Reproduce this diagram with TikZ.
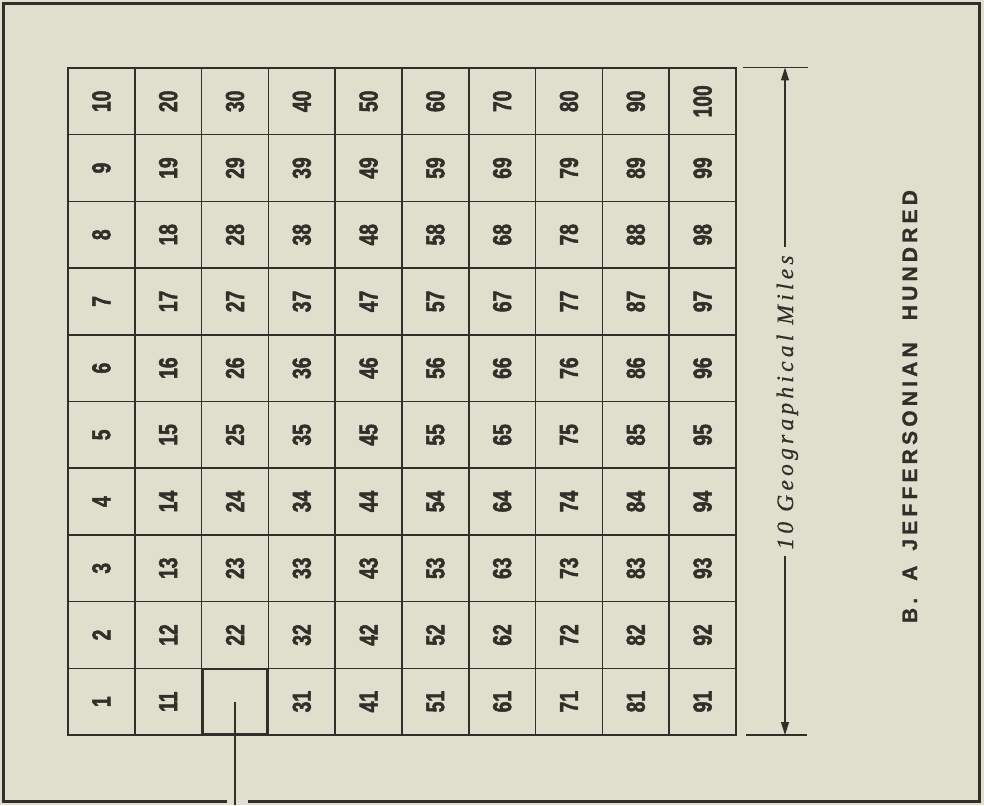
\documentclass[tikz,border=0pt]{standalone}
\usepackage{fontspec}
\setmainfont{Liberation Serif}
\newfontfamily\numfont[FakeStretch=0.74, BoldFeatures={FakeBold=2}]{Liberation Sans}
\newfontfamily\capfont[LetterSpace=20, BoldFeatures={FakeBold=1.2}]{Liberation Sans}
\newfontfamily\dimfont[LetterSpace=18, ItalicFeatures={FakeBold=0.6}]{Liberation Serif}
\usetikzlibrary{arrows.meta}
\definecolor{paper}{RGB}{224,223,206}
\definecolor{ink}{RGB}{48,48,42}
\tikzset{
  cellbox/.style={draw=ink, line width=1.5pt, minimum size=66.8pt, inner sep=0pt, outer sep=0pt, text=ink,
    font=\numfont\bfseries\fontsize{26}{26}\selectfont, rotate=90},
  hicell/.style={cellbox, line width=2.8pt, minimum size=65.5pt},
  frame/.style={draw=ink, line width=3pt},
  dimline/.style={draw=ink, line width=1.3pt},
  dimarrow/.style={dimline, -{Triangle[length=13pt,width=8pt]}},
  dimlabel/.style={text=ink, font=\dimfont\itshape\fontsize{23.5}{23.5}\selectfont, rotate=90, anchor=base, inner sep=0pt},
  titlelabel/.style={text=ink, font=\capfont\bfseries\fontsize{21}{21}\selectfont, rotate=90, anchor=base, inner sep=0pt}
}
\begin{document}
\begin{tikzpicture}[x=1pt,y=-1pt]
\useasboundingbox (0,0) rectangle (984,805);
\fill[paper] (0,0) rectangle (984,805);
% outer frame with gap at bottom
\draw[frame] (227,801) -- (3.5,801) -- (3.5,4) -- (979.5,4) -- (979.5,801) -- (248,801);
% cells
\foreach \i in {0,...,9}{
  \foreach \j in {0,...,9}{
    \pgfmathtruncatemacro{\n}{10*\i+\j+1}
    \ifnum\n=21\relax
    \else
      \node[cellbox] (c\n) at ({68+(\i+0.5)*66.8},{735-(\j+0.5)*66.7}) {\n};
    \fi
  }
}
\node[hicell] (c21) at ({68+2.5*66.8},{735-0.5*66.7}) {};
\coordinate (stemend) at (237.5,805);
\draw[ink, line width=2.6pt] (c21.center) -- (c21.center |- stemend);
% dimension
\coordinate (dimtop) at (785,67.5);
\coordinate (dimbot) at (785,735);
\draw[dimline] (743,67.5) -- (808,67.5);
\draw[dimline] (746,735) -- (807,735);
\node[dimlabel] (dimtext) at (793,402.5) {10 Geographical Miles};
\draw[dimarrow] (dimtext.east -| dimtop) ++(0,-8) -- (dimtop);
\draw[dimarrow] (dimtext.west -| dimbot) ++(0,6) -- (dimbot);
% title
\node[titlelabel] (title) at (917,406.5) {B.\hspace{17pt}A\hspace{15pt}JEFFERSONIAN\hspace{22pt}HUNDRED};
\end{tikzpicture}
\end{document}
